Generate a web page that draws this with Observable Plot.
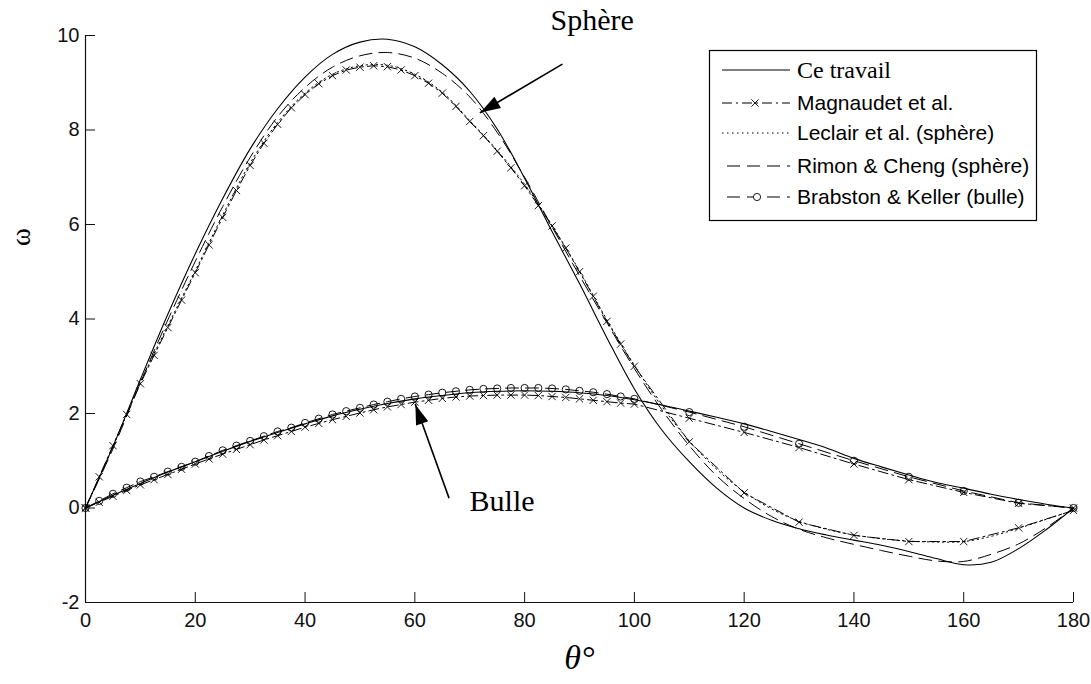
<!DOCTYPE html>
<html><head><meta charset="utf-8">
<script src="https://cdn.jsdelivr.net/npm/d3@7"></script>
<script src="https://cdn.jsdelivr.net/npm/@observablehq/plot@0.6"></script>
<style>
html,body{margin:0;padding:0;background:#fff;}
#chart svg{display:block;}
</style></head>
<body><div id="chart"></div>
<script>
// ---- data ----
const theta5 = [0,5,10,15,20,25,30,35,40,45,50,55,60,65,70,75,80,85,90,95,100,105,110,115,120,125,130,135,140,145,150,155,160,165,170,175,180];
const thetaMarked = [0,2.5,5,7.5,10,12.5,15,17.5,20,22.5,25,27.5,30,32.5,35,37.5,40,42.5,45,47.5,50,52.5,55,57.5,60,62.5,65,67.5,70,72.5,75,77.5,80,82.5,85,87.5,90,92.5,95,97.5,100,110,120,130,140,150,160,170,180];

// Sphère
const sphereCeTravail = [0,1.3,2.72,4.1,5.38,6.55,7.6,8.45,9.12,9.6,9.86,9.92,9.76,9.38,8.82,8.02,6.98,5.85,4.75,3.6,2.52,1.65,0.98,0.42,0.0,-0.26,-0.44,-0.57,-0.68,-0.79,-0.92,-1.07,-1.2,-1.15,-0.86,-0.46,0];
const sphereRimon = [0,1.25,2.65,3.98,5.22,6.38,7.42,8.28,8.9,9.33,9.57,9.64,9.52,9.2,8.7,7.95,7.0,5.95,4.92,3.92,2.95,2.08,1.32,0.68,0.2,-0.18,-0.45,-0.63,-0.77,-0.9,-1.02,-1.12,-1.13,-0.98,-0.76,-0.42,0];
const sphereLeclair = [0,1.3,2.66,3.86,5.02,6.2,7.3,8.16,8.78,9.18,9.36,9.37,9.18,8.8,8.2,7.57,6.85,5.98,5.02,3.98,3.02,2.15,1.42,0.82,0.34,-0.02,-0.28,-0.45,-0.57,-0.65,-0.7,-0.72,-0.71,-0.6,-0.43,-0.24,-0.05];
const sphereMagnaudet = [0,0.66,1.32,1.98,2.63,3.23,3.82,4.4,4.98,5.57,6.15,6.72,7.25,7.72,8.12,8.47,8.75,8.98,9.15,9.27,9.33,9.36,9.34,9.27,9.15,8.99,8.78,8.5,8.18,7.88,7.55,7.2,6.82,6.4,5.97,5.5,5.0,4.48,3.95,3.47,3.0,1.4,0.32,-0.3,-0.58,-0.71,-0.71,-0.42,-0.05];

// Bulle
const bulleCeTravail = [0,0.27,0.52,0.76,0.98,1.2,1.41,1.6,1.78,1.95,2.09,2.21,2.31,2.38,2.44,2.47,2.48,2.47,2.44,2.38,2.29,2.18,2.05,1.92,1.78,1.62,1.45,1.27,1.05,0.87,0.7,0.54,0.42,0.29,0.18,0.08,0];
const bulleMagnaudet = [0,0.12,0.25,0.37,0.49,0.6,0.71,0.82,0.93,1.04,1.14,1.24,1.34,1.44,1.53,1.62,1.71,1.79,1.87,1.94,2.01,2.08,2.14,2.19,2.24,2.28,2.32,2.35,2.37,2.38,2.39,2.39,2.39,2.38,2.36,2.34,2.31,2.28,2.25,2.22,2.2,1.9,1.6,1.28,0.93,0.6,0.33,0.1,0];
const bulleBrabston = [0,0.15,0.3,0.43,0.56,0.66,0.77,0.87,0.98,1.1,1.22,1.32,1.42,1.52,1.62,1.7,1.8,1.89,1.98,2.05,2.12,2.19,2.25,2.31,2.36,2.4,2.44,2.47,2.5,2.52,2.53,2.54,2.54,2.54,2.53,2.51,2.48,2.45,2.41,2.36,2.31,2.03,1.72,1.36,1.0,0.66,0.36,0.11,0];

const xTicks = [0,20,40,60,80,100,120,140,160,180];
const yTicks = [-2,0,2,4,6,8,10];
const seriesNames = ["Ce travail","Magnaudet et al.","Leclair et al. (sphère)","Rimon & Cheng (sphère)","Brabston & Keller (bulle)"];

const annotLabels = [{label:"Sphère", x:92.3, y:10.31},{label:"Bulle", x:75.9, y:0.13}];
const arrowSphere = [{x:86.8, y:9.39},{x:71.96, y:8.37}];
const arrowBulle = [{x:66.2, y:0.22},{x:60.1, y:2.19}];

// ---- helpers ----
const rows = (ts, ws) => ts.map((t, i) => ({t, w: ws[i]}));
const W = 1091, H = 684, mL = 85, mR = 18, mT = 35, mB = 82;
const frameW = W - mL - mR, frameH = H - mT - mB;

const DASHDOT = "10,4,2,4", DOT = "1.5,3.5", DASH = "13,7";

function filledArrow(color) {
  const ns = "http://www.w3.org/2000/svg";
  const m = document.createElementNS(ns, "marker");
  m.setAttribute("viewBox", "-22 -8 24 16");
  m.setAttribute("markerUnits", "userSpaceOnUse");
  m.setAttribute("markerWidth", 24);
  m.setAttribute("markerHeight", 16);
  m.setAttribute("refX", 0);
  m.setAttribute("refY", 0);
  m.setAttribute("orient", "auto");
  const p = document.createElementNS(ns, "path");
  p.setAttribute("d", "M-20,-6.5L0,0L-20,6.5Z");
  p.setAttribute("fill", color);
  p.setAttribute("stroke", "none");
  m.appendChild(p);
  return m;
}

const serif = "'Liberation Serif','Times New Roman',serif";
const sans = "'Liberation Sans',Arial,sans-serif";

const plot = Plot.plot({
  width: W, height: H,
  marginLeft: mL, marginRight: mR, marginTop: mT, marginBottom: mB,
  style: {fontFamily: sans, fontSize: "20px", background: "white", color: "#111"},
  x: {domain: [0, 180]},
  y: {domain: [-2, 10]},
  marks: [
    Plot.axisX(xTicks, {tickSize: 0, tickPadding: 10, label: null, tickFormat: d => `${d}`}),
    Plot.axisY(yTicks, {tickSize: 0, tickPadding: 6, label: null, tickFormat: d => `${d}`}),
    Plot.ruleX(xTicks, {insetTop: frameH - 10, stroke: "#111"}),
    Plot.ruleY(yTicks, {insetRight: frameW - 10, stroke: "#111"}),
    Plot.ruleX([0], {stroke: "#111", strokeWidth: 1.2}),
    Plot.ruleY([-2], {stroke: "#111", strokeWidth: 1.2}),

    // Sphère
    Plot.line(rows(theta5, sphereLeclair), {x: "t", y: "w", stroke: "#000", strokeWidth: 1, strokeDasharray: DOT, curve: "catmull-rom"}),
    Plot.line(rows(theta5, sphereRimon), {x: "t", y: "w", stroke: "#000", strokeWidth: 1, strokeDasharray: DASH, curve: "catmull-rom"}),
    Plot.line(rows(thetaMarked, sphereMagnaudet), {x: "t", y: "w", stroke: "#000", strokeWidth: 1, strokeDasharray: DASHDOT}),
    Plot.dot(rows(thetaMarked, sphereMagnaudet), {x: "t", y: "w", symbol: "times", r: 3.4, stroke: "#000", strokeWidth: 0.9}),
    Plot.line(rows(theta5, sphereCeTravail), {x: "t", y: "w", stroke: "#000", strokeWidth: 1.1, curve: "catmull-rom"}),

    // Bulle
    Plot.line(rows(thetaMarked, bulleMagnaudet), {x: "t", y: "w", stroke: "#000", strokeWidth: 1, strokeDasharray: DASHDOT}),
    Plot.dot(rows(thetaMarked, bulleMagnaudet), {x: "t", y: "w", symbol: "times", r: 3.4, stroke: "#000", strokeWidth: 0.9}),
    Plot.line(rows(thetaMarked, bulleBrabston), {x: "t", y: "w", stroke: "#000", strokeWidth: 1, strokeDasharray: DASH}),
    Plot.dot(rows(thetaMarked, bulleBrabston), {x: "t", y: "w", symbol: "circle", r: 3.6, stroke: "#000", fill: "none", strokeWidth: 0.9}),
    Plot.line(rows(theta5, bulleCeTravail), {x: "t", y: "w", stroke: "#000", strokeWidth: 1.1, curve: "catmull-rom"}),

    // annotations
    Plot.text(annotLabels, {x: "x", y: "y", text: "label", fontFamily: serif, fontSize: 30, fill: "#000"}),
    Plot.line(arrowSphere, {x: "x", y: "y", stroke: "#000", strokeWidth: 1.6, markerEnd: filledArrow}),
    Plot.line(arrowBulle, {x: "x", y: "y", stroke: "#000", strokeWidth: 1.6, markerEnd: filledArrow}),

    // axis titles
    Plot.text(["ω"], {frameAnchor: "left", dx: -64, dy: -73, rotate: -90, fontFamily: serif, fontSize: 27, fill: "#000"}),
    Plot.text(["θ°"], {frameAnchor: "bottom", dy: 66, fontFamily: serif, fontStyle: "italic", fontSize: 34, fill: "#000"})
  ]
});

document.getElementById("chart").appendChild(plot);

// ---- legend (inside plot area, top-right) ----
const svg = d3.select(plot);
const lg = svg.append("g").attr("class", "legend").attr("text-anchor", "start");
lg.append("rect").attr("x", 709.5).attr("y", 50.5).attr("width", 327).attr("height", 170)
  .attr("fill", "white").attr("stroke", "#000").attr("stroke-width", 1.2);
const entries = [
  {y: 70, dash: null, marker: null, font: serif, size: 24},
  {y: 103, dash: DASHDOT, marker: "times", font: sans, size: 21},
  {y: 133, dash: DOT, marker: null, font: sans, size: 21},
  {y: 166, dash: DASH, marker: null, font: sans, size: 21},
  {y: 197, dash: DASH, marker: "circle", font: sans, size: 21}
];
entries.forEach((e, i) => {
  const x0 = i >= 3 ? 727 : 722, x1 = 790;
  lg.append("line").attr("x1", x0).attr("x2", x1).attr("y1", e.y).attr("y2", e.y)
    .attr("stroke", "#000").attr("stroke-width", 1.1)
    .attr("stroke-dasharray", e.dash);
  if (e.marker === "times") {
    lg.append("path").attr("d", d3.symbol(d3.symbolTimes, 36)()).attr("transform", `translate(755,${e.y})`)
      .attr("stroke", "#000").attr("fill", "none").attr("stroke-width", 0.9);
  } else if (e.marker === "circle") {
    lg.append("circle").attr("cx", 757).attr("cy", e.y).attr("r", 3.6)
      .attr("stroke", "#000").attr("fill", "white").attr("stroke-width", 0.9);
  }
  lg.append("text").attr("x", 797).attr("y", e.y).attr("dy", "0.35em")
    .attr("text-anchor", "start")
    .attr("font-family", e.font).attr("font-size", e.size).attr("fill", "#000")
    .text(seriesNames[i]);
});
</script>
</body></html>
